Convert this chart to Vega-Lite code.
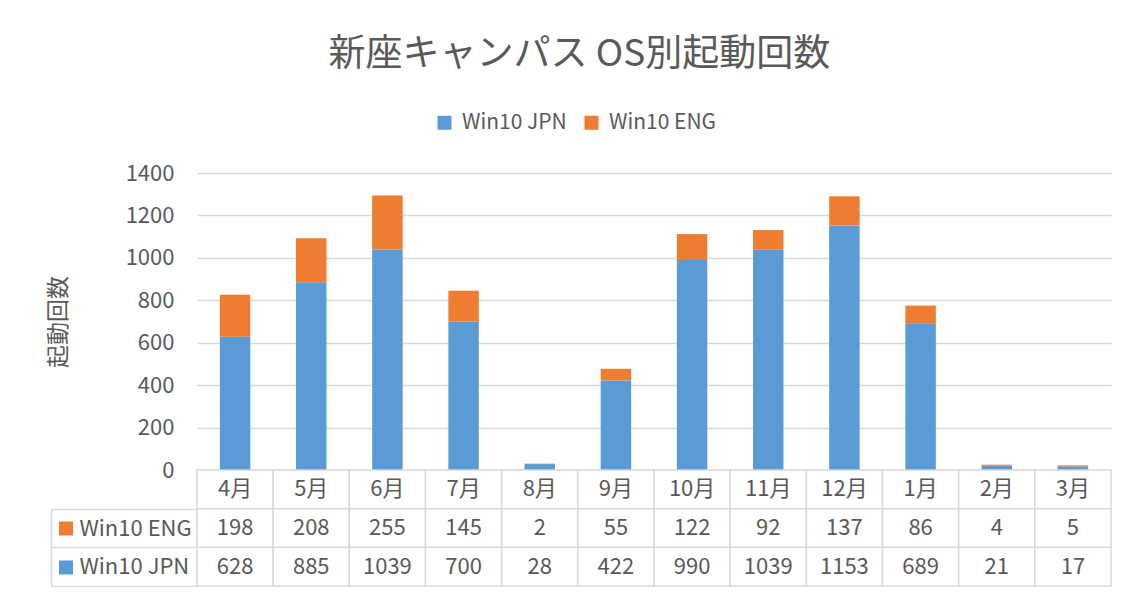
{
  "$schema": "https://vega.github.io/schema/vega-lite/v6.json",
  "padding": {"left": 47, "top": 36, "right": 0, "bottom": 0},
  "background": "white",
  "title": {"text": "新座キャンパス OS別起動回数", "anchor": "middle", "fontSize": 37, "fontWeight": "normal", "color": "#595959", "font": "Noto Sans CJK JP", "offset": 38},
  "data": {"values": [
    {"month": "4月", "series": "Win10 JPN", "value": 628}, {"month": "4月", "series": "Win10 ENG", "value": 198},
    {"month": "5月", "series": "Win10 JPN", "value": 885}, {"month": "5月", "series": "Win10 ENG", "value": 208},
    {"month": "6月", "series": "Win10 JPN", "value": 1039}, {"month": "6月", "series": "Win10 ENG", "value": 255},
    {"month": "7月", "series": "Win10 JPN", "value": 700}, {"month": "7月", "series": "Win10 ENG", "value": 145},
    {"month": "8月", "series": "Win10 JPN", "value": 28}, {"month": "8月", "series": "Win10 ENG", "value": 2},
    {"month": "9月", "series": "Win10 JPN", "value": 422}, {"month": "9月", "series": "Win10 ENG", "value": 55},
    {"month": "10月", "series": "Win10 JPN", "value": 990}, {"month": "10月", "series": "Win10 ENG", "value": 122},
    {"month": "11月", "series": "Win10 JPN", "value": 1039}, {"month": "11月", "series": "Win10 ENG", "value": 92},
    {"month": "12月", "series": "Win10 JPN", "value": 1153}, {"month": "12月", "series": "Win10 ENG", "value": 137},
    {"month": "1月", "series": "Win10 JPN", "value": 689}, {"month": "1月", "series": "Win10 ENG", "value": 86},
    {"month": "2月", "series": "Win10 JPN", "value": 21}, {"month": "2月", "series": "Win10 ENG", "value": 4},
    {"month": "3月", "series": "Win10 JPN", "value": 17}, {"month": "3月", "series": "Win10 ENG", "value": 5}
  ]},
  "spacing": 0,
  "bounds": "flush",
  "resolve": {"legend": {"color": "independent"}},
  "vconcat": [
    {
      "width": 914, "height": 297,
      "mark": {"type": "bar"},
      "encoding": {
        "x": {"field": "month", "type": "nominal", "scale": {"domain": ["4月","5月","6月","7月","8月","9月","10月","11月","12月","1月","2月","3月"], "paddingInner": 0.6, "paddingOuter": 0.3}, "axis": null},
        "y": {"field": "value", "type": "quantitative", "stack": "zero", "scale": {"domain": [0, 1400], "nice": false},
          "axis": {"values": [0,200,400,600,800,1000,1200,1400], "format": "d", "title": "起動回数", "grid": true, "gridColor": "#d9d9d9", "gridWidth": 1.3, "domain": false, "ticks": false, "labelPadding": 23, "labelFontSize": 22, "labelColor": "#595959", "labelFont": "Noto Sans CJK JP", "titleFontSize": 23, "titleFontWeight": "normal", "titleColor": "#595959", "titleFont": "Noto Sans CJK JP", "titlePadding": 55}},
        "color": {"field": "series", "type": "nominal", "scale": {"domain": ["Win10 JPN", "Win10 ENG"], "range": ["#5b9bd5", "#ed7d31"]},
          "legend": {"orient": "none", "legendX": 237, "legendY": -61, "direction": "horizontal", "title": null, "symbolType": "square", "symbolSize": 196, "symbolStrokeWidth": 0, "labelFontSize": 21, "labelColor": "#595959", "labelFont": "Noto Sans CJK JP", "labelOffset": 7, "columnPadding": 14, "padding": 0}},
        "order": {"field": "series", "sort": "descending"}
      }
    },
    {
      "width": 914, "height": 116,
      "encoding": {
        "x": {"field": "month", "type": "nominal", "scale": {"domain": ["4月","5月","6月","7月","8月","9月","10月","11月","12月","1月","2月","3月"], "paddingInner": 0, "paddingOuter": 0}, "axis": null}
      },
      "layer": [
        {
          "transform": [{"filter": "datum.series === 'Win10 JPN'"}],
          "mark": {"type": "rect", "fill": "white", "stroke": "#d9d9d9", "strokeWidth": 1.5},
          "encoding": {
            "y": {"datum": "hdr", "type": "nominal", "scale": {"domain": ["hdr", "Win10 ENG", "Win10 JPN"], "paddingInner": 0, "paddingOuter": 0},
              "axis": {"title": null, "offset": 146, "domain": true, "domainColor": "#d9d9d9", "domainWidth": 1.5, "domainDash": [0, 39, 77],
                "ticks": true, "tickBand": "extent", "tickSize": -146, "tickWidth": 1.5,
                "tickColor": {"condition": {"test": "datum.extra", "value": "rgba(0,0,0,0)"}, "value": "#d9d9d9"},
                "labelExpr": "datum.value === 'hdr' ? '' : datum.value", "labelAlign": "left", "labelPadding": 118, "labelFontSize": 22, "labelColor": "#595959", "labelFont": "Noto Sans CJK JP", "grid": false}}
          }
        },
        {
          "mark": {"type": "rect", "fill": "white", "stroke": "#d9d9d9", "strokeWidth": 1.5},
          "encoding": {
            "y": {"field": "series", "type": "nominal"},
            "color": {"field": "series", "type": "nominal",
              "legend": {"orient": "none", "legendX": -138, "legendY": 39, "direction": "vertical", "title": null, "values": ["Win10 ENG", "Win10 JPN"], "symbolType": "square", "symbolSize": 196, "symbolStrokeWidth": 0, "labelExpr": "''", "clipHeight": 39, "rowPadding": 0, "padding": 0}}
          }
        },
        {
          "transform": [{"filter": "datum.series === 'Win10 JPN'"}],
          "mark": {"type": "text", "fontSize": 22, "color": "#595959", "font": "Noto Sans CJK JP"},
          "encoding": {
            "y": {"datum": "hdr", "type": "nominal"},
            "text": {"field": "month", "type": "nominal"}
          }
        },
        {
          "mark": {"type": "text", "fontSize": 22, "color": "#595959", "font": "Noto Sans CJK JP"},
          "encoding": {
            "y": {"field": "series", "type": "nominal"},
            "text": {"field": "value", "type": "quantitative"}
          }
        }
      ]
    }
  ],
  "config": {"view": {"stroke": null}, "font": "Noto Sans CJK JP"}
}
